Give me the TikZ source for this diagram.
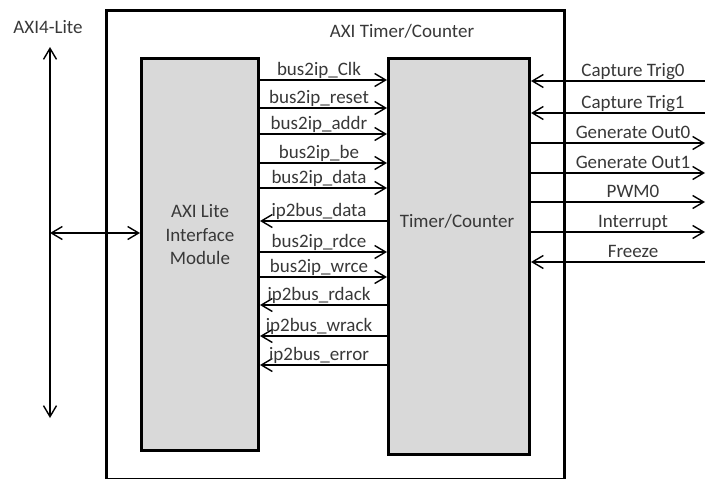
\documentclass[tikz,border=0pt]{standalone}
\usepackage{fontspec}
\setmainfont{Carlito}
\usetikzlibrary{arrows.meta, positioning}

\begin{document}
\begin{tikzpicture}[
        x=1pt, y=-1pt,
        every node/.style={font=\fontsize{19}{23.5}\selectfont, text=black!78},
        >={Straight Barb[length=11pt, width=13pt]},
        blk/.style={draw=black, line width=3pt, fill=black!15, anchor=north west, inner sep=0pt},
        sig/.style={line width=1.4pt},
        fwd/.style={sig, ->},
        bwd/.style={sig, <-},
        lbl/.style={anchor=base, inner sep=0pt}
    ]
\useasboundingbox (0,0) rectangle (713,479);

% ---------- outer core box and the two blocks ----------
\node[draw=black, line width=3pt, anchor=north west, inner sep=0pt,
      minimum width=458pt, minimum height=469pt] (axi) at (105,9) {};
\node[lbl] (title) at (402,37) {AXI Timer/Counter};

\node[blk, minimum width=117pt, minimum height=392pt] (lim) at (140,57) {};
\node[align=center] (limtxt) at (200,235) {AXI Lite\\Interface\\Module};

\node[blk, minimum width=141pt, minimum height=396pt] (tc) at (387,57) {};
\node[lbl] (tctxt) at (457,227) {Timer/Counter};

% ---------- AXI4-Lite bus ----------
\node[lbl] (bus) at (48,33) {AXI4-Lite};
\coordinate (bt) at (50,47);
\coordinate (bb) at (50,418);
\draw[sig, <->] (bt) -- (bb);
\coordinate (hb) at (50,233);
\draw[sig, <->] (hb) -- (hb -| lim.west);

% ---------- IPIC signals between the blocks ----------
\foreach \yy/\txt/\dir in {80/bus2ip\_Clk/fwd, 108/bus2ip\_reset/fwd,
        134/bus2ip\_addr/fwd, 163/bus2ip\_be/fwd, 188/bus2ip\_data/fwd,
        221/ip2bus\_data/bwd, 252/bus2ip\_rdce/fwd, 277/bus2ip\_wrce/fwd,
        305/ip2bus\_rdack/bwd, 336/ip2bus\_wrack/bwd, 365/ip2bus\_error/bwd}{
    \coordinate (s) at (0,\yy);
    \draw[\dir] (s -| lim.east) -- (s -| tc.west);
    \node[lbl] (l\yy) at (319,\yy-4.5) {\txt};
}

% ---------- external timer signals ----------
\foreach \yy/\txt/\dir in {81/Capture Trig0/bwd, 113/Capture Trig1/bwd,
        143/Generate Out0/fwd, 173/Generate Out1/fwd, 202/PWM0/fwd,
        232/Interrupt/fwd, 262/Freeze/bwd}{
    \coordinate (s) at (0,\yy);
    \coordinate (e\yy) at (705,\yy);
    \draw[\dir] (s -| tc.east) -- (e\yy);
    \node[lbl] (r\yy) at (633,\yy-5) {\txt};
}

\end{tikzpicture}
\end{document}
